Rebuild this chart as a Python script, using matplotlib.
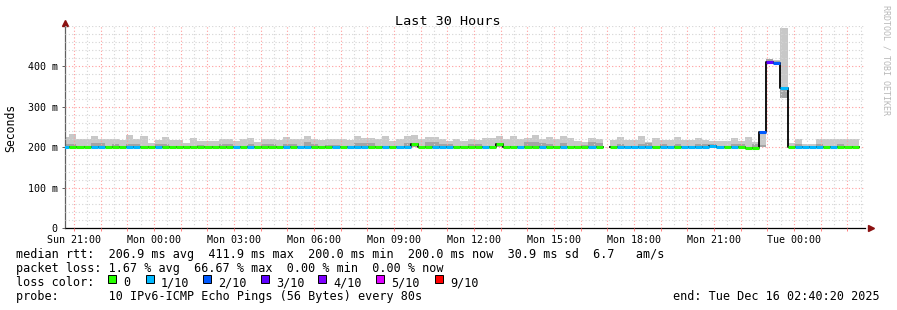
import numpy as np
import pandas as pd
import matplotlib
matplotlib.use("Agg")
import matplotlib.pyplot as plt
import matplotlib.dates as mdates
from matplotlib.patches import Rectangle
from matplotlib.ticker import FixedLocator, MultipleLocator, FuncFormatter

nan = np.nan

# --- datos: bins RRD de 16 min (el primero empieza antes de la ventana) ---
bin_first = "2025-12-14 20:33:20"
bin_minutes = 16
graph_start = "2025-12-14 20:40:20"
graph_end = "2025-12-16 02:40:20"

# mediana (ms) por bin
median_rtt = [
    201, 201, 201, 201, 201, 201, 201, 201, 201, 201,
    201, 201, 201, 201, 201, 201, 201, 201, 201, 201,
    201, 201, 201, 201, 201, 201, 201, 201, 201, 201,
    201, 201, 201, 201, 201, 201, 201, 201, 201, 201,
    201, 201, 201, 201, 201, 201, 201, 201, 201, 207,
    201, 201, 201, 201, 201, 201, 201, 201, 201, 201,
    201, 207, 201, 201, 201, 201, 201, 201, 201, 201,
    201, 201, 201, 201, 201, 201, nan, 201, 201, 201,
    201, 201, 201, 201, 201, 201, 201, 201, 201, 201,
    201, 203, 201, 201, 201, 201, 198.5, 198.5, 238, 411,
    409, 345.5, 201, 201, 201, 201, 201, 201, 201, 201,
    201, 201,
]

# humo: minimo, zona oscura y maximo (ms)
smoke_low = [
    200, 200, 200, 200, 200, 200, 200, 200, 200, 200,
    200, 200, 200, 200, 200, 200, 200, 200, 200, 200,
    200, 200, 200, 200, 200, 200, 200, 200, 200, 200,
    200, 200, 200, 200, 200, 200, 200, 200, 200, 200,
    200, 200, 200, 200, 200, 200, 200, 200, 200, 200,
    200, 200, 200, 200, 200, 200, 200, 200, 200, 200,
    200, 200, 200, 200, 200, 200, 200, 200, 200, 200,
    200, 200, 200, 200, 200, 200, nan, 200, 200, 200,
    200, 200, 200, 200, 200, 200, 200, 200, 200, 200,
    200, 200, 200, 200, 200, 200, 198, 198, 200, 409,
    407, 322, 200, 200, 200, 200, 200, 200, 200, 200,
    200, 200,
]

smoke_mid = [
    207, 207, 203, 203, 210, 210, 203, 207, 203, 207,
    207, 203, 203, 207, 207, 203, 203, 203, 203, 205,
    203, 203, 207, 207, 203, 203, 207, 203, 207, 207,
    203, 207, 207, 203, 213, 207, 203, 206, 206, 203,
    203, 210, 210, 210, 203, 203, 203, 203, 210, 207,
    203, 212, 212, 209, 209, 203, 203, 208, 208, 203,
    203, 207, 203, 203, 203, 213, 212, 210, 209, 203,
    210, 203, 203, 205, 213, 210, nan, 203, 207, 203,
    203, 207, 210, 203, 207, 203, 207, 203, 203, 207,
    207, 209, 203, 203, 207, 207, 200, 207, 206, 417,
    413, 346, 203, 207, 203, 203, 207, 203, 203, 207,
    203, 203,
]

smoke_top = [
    226, 233, 220, 221, 228, 221, 221, 221, 218, 230,
    220, 228, 210, 218, 225, 218, 218, 210, 224, 216,
    216, 216, 220, 220, 216, 220, 224, 212, 220, 220,
    218, 225, 220, 221, 228, 220, 219, 221, 220, 220,
    219, 228, 224, 224, 220, 228, 215, 220, 228, 230,
    220, 226, 226, 220, 215, 221, 215, 221, 219, 222,
    224, 227, 220, 227, 221, 222, 230, 221, 226, 221,
    228, 222, 216, 213, 224, 220, nan, 218, 226, 218,
    218, 228, 214, 224, 218, 218, 226, 218, 218, 224,
    218, 216, 216, 216, 224, 216, 226, 214, 238, 417,
    416, 495, 210, 221, 208, 208, 220, 221, 220, 220,
    221, 220,
]

# nivel de perdida (indice en loss_colors)
loss_level = [
    1, 0, 0, 0, 1, 1, 0, 0, 0, 1,
    1, 0, 0, 1, 0, 0, 0, 0, 0, 0,
    0, 0, 0, 0, 1, 0, 1, 0, 0, 0,
    0, 1, 0, 1, 1, 0, 0, 0, 1, 0,
    1, 1, 1, 0, 0, 1, 0, 1, 1, 0,
    0, 0, 1, 1, 1, 0, 0, 0, 0, 1,
    0, 0, 0, 0, 1, 0, 0, 1, 0, 0,
    1, 0, 0, 0, 1, 0, 0, 0, 1, 1,
    1, 1, 1, 0, 1, 1, 0, 1, 1, 1,
    1, 1, 1, 0, 1, 0, 0, 0, 2, 3,
    2, 1, 0, 1, 1, 1, 1, 0, 1, 0,
    0, 0,
]

loss_labels = ["0", "1/10", "2/10", "3/10", "4/10", "5/10", "9/10"]
loss_colors = ["#26ff00", "#00b8ff", "#0059ff", "#5e00ff", "#7e00ff", "#dd00ff", "#ff0000"]

rtt_line = "median rtt:  206.9 ms avg  411.9 ms max  200.0 ms min  200.0 ms now  30.9 ms sd  6.7   am/s"
loss_line = "packet loss: 1.67 % avg  66.67 % max  0.00 % min  0.00 % now"
probe_line = "probe:       10 IPv6-ICMP Echo Pings (56 Bytes) every 80s"
end_text = "end: Tue Dec 16 02:40:20 2025"

W, H = 897, 310


def fig_xy(x, y):
    """pixeles (desde arriba-izquierda) -> coordenadas de figura"""
    return x / W, 1 - y / H


def plot_smokeping():
    plt.rcParams['font.family'] = ['DejaVu Sans Mono']

    fig = plt.figure(figsize=(W / 100, H / 100), dpi=100)
    ax = fig.add_axes([65.3 / W, 1 - 228.3 / H, 800 / W, 202.5 / H])

    starts = pd.date_range(bin_first, periods=len(median_rtt), freq=f"{bin_minutes}min")
    x0 = mdates.date2num(starts)
    width = bin_minutes / 1440.0

    low = np.array(smoke_low, dtype=float)
    mid = np.array(smoke_mid, dtype=float)
    top = np.array(smoke_top, dtype=float)
    med = np.array(median_rtt, dtype=float)

    # --- humo ---
    ax.bar(x0, top - low, width=width, bottom=low, align='edge',
           color='#c8c8c8', linewidth=0, zorder=1)
    ax.bar(x0, mid - low, width=width, bottom=low, align='edge',
           color='#a4a4a4', linewidth=0, zorder=1.1)

    # --- linea de mediana (negra) y bandas de perdida ---
    xs = np.append(x0, x0[-1] + width)
    ys = np.append(med, med[-1])
    ax.step(xs, ys, where='post', color='black', linewidth=1.3, zorder=3)
    band_colors = [loss_colors[l] for l in loss_level]
    ax.hlines(med, x0, x0 + width, colors=band_colors, linewidth=2.2, zorder=4)

    # --- ejes ---
    ax.set_xlim(mdates.date2num(pd.Timestamp(graph_start)),
                mdates.date2num(pd.Timestamp(graph_end)))
    ax.set_ylim(0, 500)

    ax.xaxis.set_major_locator(mdates.HourLocator(interval=1))
    ax.xaxis.set_minor_locator(mdates.MinuteLocator(byminute=[30]))

    def fmt_x(v, pos):
        d = mdates.num2date(v)
        return d.strftime('%a %H:%M') if d.hour % 3 == 0 else ''
    ax.xaxis.set_major_formatter(FuncFormatter(fmt_x))

    ax.yaxis.set_major_locator(FixedLocator([0, 100, 200, 300, 400]))
    ax.yaxis.set_minor_locator(MultipleLocator(20))
    ax.yaxis.set_major_formatter(FuncFormatter(lambda v, p: '0' if v == 0 else f'{v:.0f} m'))

    ax.set_axisbelow(False)
    ax.grid(True, which='major', color='#ff9c9c', linestyle=(0, (1, 2)), linewidth=0.8)
    ax.grid(True, which='minor', color='#d4d4d4', linestyle=(0, (1, 2)), linewidth=0.8)

    ax.tick_params(axis='x', which='major', length=2.5, width=0.7, color='#ff8080',
                   labelsize=7.2, pad=2.0)
    ax.tick_params(axis='x', which='minor', length=0)
    ax.tick_params(axis='y', which='major', length=2, width=0.7, color='#606060',
                   labelsize=7.2, pad=3.5)
    ax.tick_params(axis='y', which='minor', length=0)

    for s in ['top', 'right']:
        ax.spines[s].set_visible(False)
    ax.spines['left'].set_color('#606060')
    ax.spines['bottom'].set_color('black')
    ax.spines['left'].set_linewidth(0.9)
    ax.spines['bottom'].set_linewidth(0.9)

    ax.plot([0], [1.015], marker='^', color='#8b1010', markersize=4,
            transform=ax.transAxes, clip_on=False)
    ax.plot([1.007], [0], marker='>', color='#8b1010', markersize=4,
            transform=ax.transAxes, clip_on=False)

    # --- textos ---
    fig.text(*fig_xy(448, 25), 'Last 30 Hours', ha='center', va='baseline', fontsize=9.7)
    fig.text(*fig_xy(10.8, 127.7), 'Seconds', rotation=90, ha='center', va='center',
             fontsize=8.3)
    fig.text(*fig_xy(886, 5), 'RRDTOOL / TOBI OETIKER', rotation=270, ha='center',
             va='top', fontsize=6.0, color='#b8b8b8')

    fs = 8.5
    fig.text(*fig_xy(16, 258), rtt_line, fontsize=fs, va='baseline')
    fig.text(*fig_xy(16, 272), loss_line, fontsize=fs, va='baseline')

    fig.text(*fig_xy(16, 286), 'loss color:', fontsize=fs, va='baseline')
    for lab, col, xp in zip(loss_labels, loss_colors, [108, 146, 203, 261, 318, 376, 435]):
        fig.patches.append(Rectangle(fig_xy(xp, 282.5), 8 / W, 8 / H, facecolor=col,
                                     edgecolor='black', linewidth=0.7,
                                     transform=fig.transFigure, figure=fig))
        fig.text(*fig_xy(xp + 15, 286), lab, fontsize=fs, va='baseline')

    fig.text(*fig_xy(16, 300), probe_line, fontsize=fs, va='baseline')
    fig.text(*fig_xy(880, 300), end_text, fontsize=fs, va='baseline', ha='right')

    fig.savefig('out.png', dpi=100)
    print("guardado out.png")


if __name__ == "__main__":
    plot_smokeping()
